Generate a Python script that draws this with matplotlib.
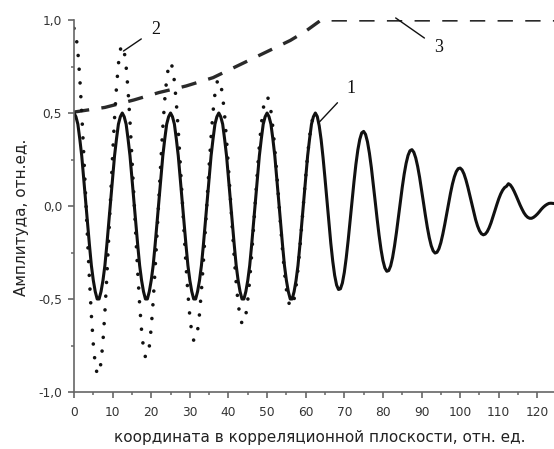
import matplotlib
matplotlib.use("Agg")
import matplotlib.pyplot as plt
from matplotlib.ticker import MultipleLocator, FuncFormatter
import numpy as np

step = 0.5

# curve 1 (solid): constant amplitude up to x = 62.5, then decaying
curve1 = [
    0.50, 0.48, 0.44, 0.36, 0.27, 0.15, 0.03, -0.09, -0.21, -0.32, -0.40, -0.46, -0.50,
    -0.50, -0.46, -0.40, -0.32, -0.21, -0.09, 0.03, 0.15, 0.27, 0.36, 0.44, 0.48,
    0.50, 0.48, 0.44, 0.36, 0.27, 0.15, 0.03, -0.09, -0.21, -0.32, -0.40, -0.46, -0.50,
    -0.50, -0.46, -0.40, -0.32, -0.21, -0.09, 0.03, 0.15, 0.27, 0.36, 0.44, 0.48,
    0.50, 0.48, 0.44, 0.36, 0.27, 0.15, 0.03, -0.09, -0.21, -0.32, -0.40, -0.46, -0.50,
    -0.50, -0.46, -0.40, -0.32, -0.21, -0.09, 0.03, 0.15, 0.27, 0.36, 0.44, 0.48,
    0.50, 0.48, 0.44, 0.36, 0.27, 0.15, 0.03, -0.09, -0.21, -0.32, -0.40, -0.46, -0.50,
    -0.50, -0.46, -0.40, -0.32, -0.21, -0.09, 0.03, 0.15, 0.27, 0.36, 0.44, 0.48,
    0.50, 0.48, 0.44, 0.36, 0.27, 0.15, 0.03, -0.09, -0.21, -0.32, -0.40, -0.46, -0.50,
    -0.50, -0.46, -0.40, -0.32, -0.21, -0.09, 0.03, 0.15, 0.27, 0.36, 0.44, 0.48,
    0.500, 0.481, 0.431, 0.356, 0.259, 0.148, 0.030, -0.088, -0.200, -0.296, -0.373, -0.425, -0.449,
    -0.445, -0.414, -0.357, -0.278, -0.184, -0.080, 0.027, 0.130, 0.224, 0.301, 0.358, 0.393,
    0.401, 0.385, 0.345, 0.284, 0.207, 0.118, 0.024, -0.070, -0.157, -0.233, -0.293, -0.333, -0.351,
    -0.347, -0.322, -0.277, -0.215, -0.142, -0.062, 0.021, 0.100, 0.171, 0.229, 0.272, 0.297,
    0.303, 0.289, 0.258, 0.212, 0.154, 0.087, 0.018, -0.051, -0.115, -0.170, -0.213, -0.241, -0.253,
    -0.249, -0.230, -0.197, -0.152, -0.100, -0.043, 0.014, 0.069, 0.118, 0.157, 0.185, 0.201,
    0.204, 0.194, 0.172, 0.140, 0.101, 0.057, 0.011, -0.033, -0.073, -0.107, -0.133, -0.149, -0.155,
    -0.151, -0.138, -0.117, -0.090, -0.058, -0.025, 0.008, 0.039, 0.065, 0.085, 0.099, 0.106,
    0.120, 0.113, 0.098, 0.078, 0.055, 0.030, 0.006, -0.016, -0.036, -0.051, -0.061, -0.066, -0.066,
    -0.061, -0.053, -0.043, -0.031, -0.018, -0.007, 0.002, 0.009, 0.014, 0.015, 0.014,
]

# curve 2 (dotted): larger amplitude at the start, meets curve 1 near x = 62.5
curve2 = [
    0.955, 0.922, 0.830, 0.688, 0.504, 0.289, 0.059, -0.174, -0.394, -0.587, -0.743, -0.851, -0.904,
    -0.900, -0.841, -0.728, -0.571, -0.380, -0.166, 0.056, 0.273, 0.471, 0.638, 0.763, 0.841,
    0.864, 0.833, 0.750, 0.622, 0.455, 0.261, 0.053, -0.157, -0.356, -0.529, -0.669, -0.766, -0.813,
    -0.810, -0.756, -0.654, -0.513, -0.342, -0.149, 0.050, 0.244, 0.422, 0.571, 0.683, 0.752,
    0.773, 0.745, 0.670, 0.555, 0.406, 0.233, 0.047, -0.140, -0.317, -0.471, -0.595, -0.681, -0.723,
    -0.719, -0.671, -0.581, -0.455, -0.303, -0.132, 0.044, 0.216, 0.373, 0.505, 0.603, 0.664,
    0.681, 0.657, 0.590, 0.489, 0.357, 0.205, 0.042, -0.123, -0.278, -0.413, -0.522, -0.596, -0.632,
    -0.629, -0.586, -0.507, -0.397, -0.264, -0.115, 0.039, 0.188, 0.324, 0.438, 0.523, 0.575,
    0.590, 0.568, 0.510, 0.422, 0.308, 0.177, 0.036, -0.106, -0.239, -0.355, -0.448, -0.511, -0.542,
    -0.538, -0.501, -0.433, -0.339, -0.225, -0.098, 0.033, 0.160, 0.275, 0.372, 0.443, 0.487,
    0.500,
]

# curve 3 (dashed)
x3 = [0, 8, 15.5, 22, 29, 36, 42, 49, 56, 60, 64, 124.3]
curve3 = [0.505, 0.53, 0.57, 0.61, 0.645, 0.69, 0.75, 0.82, 0.89, 0.94, 1.0, 1.0]

x1 = np.arange(len(curve1)) * step
x2 = np.arange(len(curve2)) * step

xlabel = "координата в корреляционной плоскости, отн. ед."
ylabel = "Амплитуда, отн.ед."

fig = plt.figure(figsize=(5.54, 4.49), dpi=100)
ax = fig.add_axes([74 / 554, 57 / 449, 480 / 554, 372 / 449])

ax.plot(x3, curve3, color="#2a2a2a", lw=2.4, dashes=(4.6, 3.7), dash_capstyle="butt")
ax.plot(x2, curve2, color="#111111", lw=2.6, dashes=(0.01, 3.8), dash_capstyle="round")
ax.plot(x1, curve1, color="#111111", lw=2.2, solid_joinstyle="round")

ax.set_xlim(0, 124.3)
ax.set_ylim(-1.0, 1.0)

ax.spines["top"].set_visible(False)
ax.spines["right"].set_visible(False)
for s in ("left", "bottom"):
    ax.spines[s].set_color("#666666")
    ax.spines[s].set_linewidth(1.2)

ax.xaxis.set_major_locator(MultipleLocator(10))
ax.xaxis.set_minor_locator(MultipleLocator(5))
ax.yaxis.set_major_locator(MultipleLocator(0.5))
ax.yaxis.set_minor_locator(MultipleLocator(0.25))
ax.yaxis.set_major_formatter(FuncFormatter(lambda v, p: f"{v:.1f}".replace(".", ",")))
ax.tick_params(which="major", direction="out", length=4, width=1.2, color="#666666",
               labelsize=8.8, labelcolor="#333333")
ax.tick_params(axis="x", which="major", pad=6)
ax.tick_params(axis="y", which="major", pad=4.5)
ax.tick_params(which="minor", direction="out", length=2.5, width=1.1, color="#666666")
for lab in ax.get_xticklabels() + ax.get_yticklabels():
    lab.set_fontfamily("DejaVu Sans")

ax.set_xlabel(xlabel, fontsize=11, fontfamily="DejaVu Sans", color="#222222")
ax.set_ylabel(ylabel, fontsize=11, fontfamily="DejaVu Sans", color="#222222")
ax.xaxis.set_label_coords(0.5125, -0.134)
ax.xaxis.label.set_verticalalignment("baseline")
ax.yaxis.set_label_coords(-0.110, 0.47)
ax.yaxis.label.set_verticalalignment("center")

# curve numbers with leader lines
notes = [("1", (63.3, 0.446), (71.6, 0.63)),
         ("2", (12.8, 0.833), (21.1, 0.95)),
         ("3", (83.3, 1.011), (94.4, 0.85))]
for txt, tip, pos in notes:
    ax.annotate(txt, xy=tip, xytext=pos, ha="center", va="center",
                fontsize=13, fontfamily="Liberation Serif", color="#111111",
                arrowprops=dict(arrowstyle="-", color="#111111", lw=1.0,
                                shrinkA=6, shrinkB=0), annotation_clip=False)

fig.savefig("out.png", dpi=100)
